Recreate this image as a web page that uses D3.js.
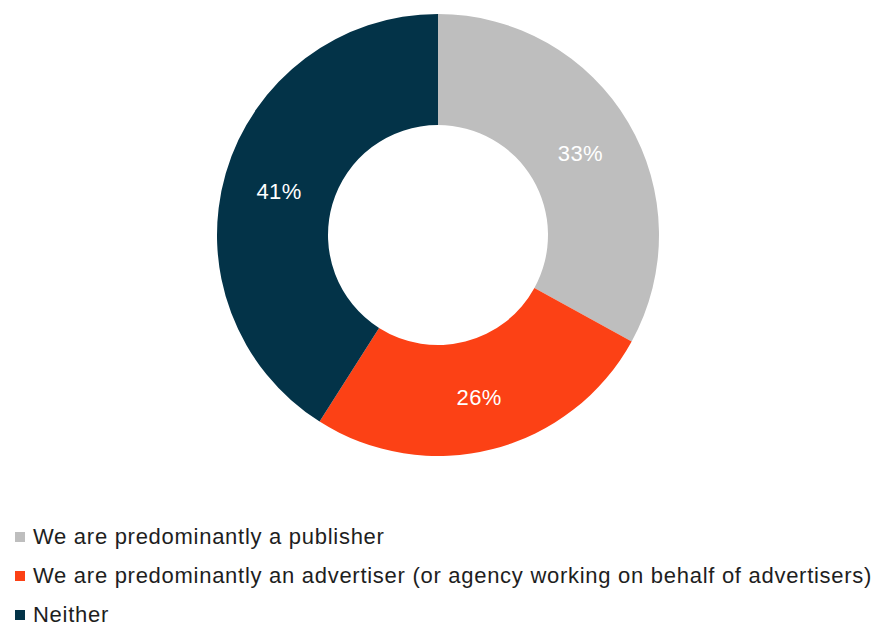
<!DOCTYPE html>
<html>
<head>
<meta charset="utf-8">
<script src="https://cdn.jsdelivr.net/npm/d3@7"></script>
<style>
  html, body { margin: 0; padding: 0; background: #ffffff; }
  svg { display: block; }
</style>
</head>
<body>
<svg id="chart" width="878" height="625"></svg>
<script>
// Share of respondents by role
const categories = [
  "We are predominantly a publisher",
  "We are predominantly an advertiser (or agency working on behalf of advertisers)",
  "Neither"
];
const values = [33, 26, 41];
const colors = ["#bebebe", "#fc4115", "#033348"];

const svg = d3.select("#chart");

const cx = 438, cy = 235;
const outerR = 221, innerR = 110;

const pie = d3.pie().sort(null).value(d => d.value);
const arc = d3.arc().innerRadius(innerR).outerRadius(outerR);

const data = categories.map((c, i) => ({ name: c, value: values[i], color: colors[i] }));

const g = svg.append("g").attr("transform", `translate(${cx},${cy})`);

const arcs = pie(data);

g.selectAll("path.slice")
  .data(arcs)
  .join("path")
  .attr("class", "slice")
  .attr("d", arc)
  .attr("fill", d => d.data.color);

g.selectAll("text.value")
  .data(arcs)
  .join("text")
  .attr("class", "value")
  .attr("transform", d => `translate(${arc.centroid(d)})`)
  .attr("text-anchor", "middle")
  .attr("dy", "0.45em")
  .attr("fill", "#ffffff")
  .style("font-family", "'Liberation Sans', Arial, sans-serif")
  .style("font-size", "22px")
  .style("letter-spacing", "0.4px")
  .text(d => d.data.value + "%");

// Legend
const legend = svg.append("g").attr("transform", "translate(15,0)");
const rowY = d3.scalePoint().domain(categories).range([544, 622]);

const rows = legend.selectAll("g.row")
  .data(data)
  .join("g")
  .attr("class", "row")
  .attr("transform", d => `translate(0,${rowY(d.name)})`);

rows.append("rect")
  .attr("x", 0)
  .attr("y", -12)
  .attr("width", 10)
  .attr("height", 10)
  .attr("fill", d => d.color);

rows.append("text")
  .attr("x", 18)
  .attr("y", 0)
  .attr("fill", "#1e1e1e")
  .style("font-family", "'Liberation Sans', Arial, sans-serif")
  .style("font-size", "22px")
  .style("letter-spacing", "0.72px")
  .text(d => d.name);
</script>
</body>
</html>
